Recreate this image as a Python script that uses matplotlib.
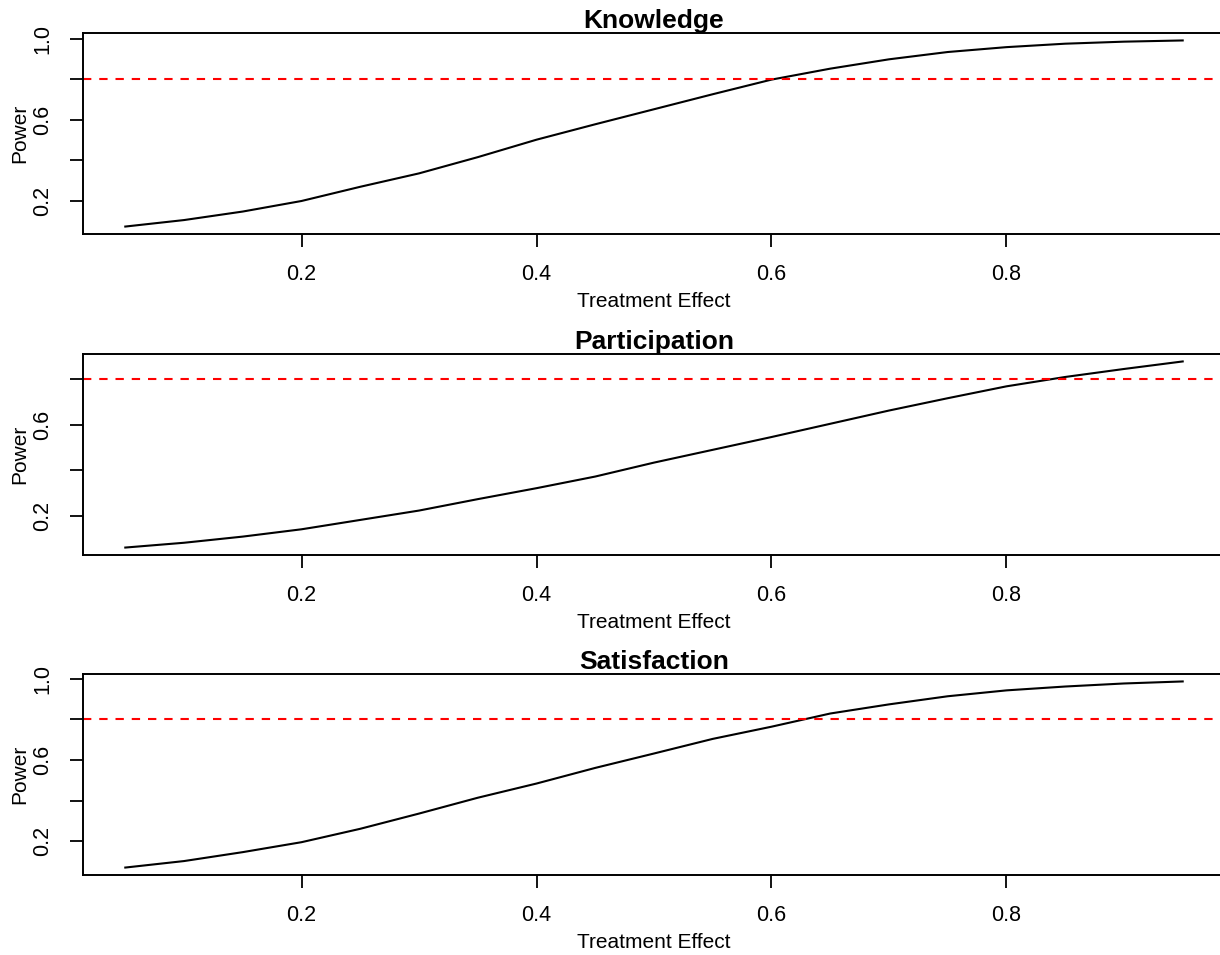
import matplotlib
matplotlib.use("Agg")
import matplotlib.pyplot as plt

plt.rcParams['font.family'] = ['Liberation Sans', 'DejaVu Sans']

# Treatment effect sizes evaluated
effect = [0.05, 0.10, 0.15, 0.20, 0.25, 0.30, 0.35, 0.40, 0.45, 0.50,
          0.55, 0.60, 0.65, 0.70, 0.75, 0.80, 0.85, 0.90, 0.95]

# Estimated power for each outcome
power_knowledge = [0.074, 0.106, 0.148, 0.200, 0.270, 0.336, 0.416, 0.502, 0.578, 0.652,
                   0.726, 0.798, 0.852, 0.898, 0.934, 0.958, 0.975, 0.985, 0.991]
power_participation = [0.062, 0.083, 0.110, 0.142, 0.183, 0.224, 0.274, 0.322, 0.373, 0.434,
                       0.490, 0.546, 0.604, 0.662, 0.716, 0.768, 0.809, 0.844, 0.877]
power_satisfaction = [0.070, 0.102, 0.146, 0.195, 0.261, 0.336, 0.414, 0.484, 0.561, 0.632,
                      0.704, 0.764, 0.829, 0.874, 0.914, 0.943, 0.962, 0.977, 0.987]

titles = ["Knowledge", "Participation", "Satisfaction"]
series = [power_knowledge, power_participation, power_satisfaction]
target_power = 0.8

W, H = 1220, 955
fig = plt.figure(figsize=(W / 100, H / 100), dpi=100)

# panel boxes in pixels: (top, bottom)
boxes = [(33, 234), (354, 555), (674, 875)]
left_px, right_px = 83, 1225

for (top, bot), title, y in zip(boxes, titles, series):
    ax = fig.add_axes([left_px / W, (H - bot) / H, (right_px - left_px) / W, (bot - top) / H])
    ax.plot(effect, y, color='black', lw=1.5)
    ax.axhline(target_power, color='#ff0000', lw=1.5, dashes=(4.0, 3.8))

    # R-style 4% padding around data range
    xr = max(effect) - min(effect)
    ax.set_xlim(min(effect) - 0.04 * xr, max(effect) + 0.04 * xr)
    yr = max(y) - min(y)
    ax.set_ylim(min(y) - 0.04 * yr, max(y) + 0.04 * yr)

    ax.set_xticks([0.2, 0.4, 0.6, 0.8])
    ax.set_xticklabels(["0.2", "0.4", "0.6", "0.8"])
    yt = [t for t in [0.2, 0.4, 0.6, 0.8, 1.0] if t <= ax.get_ylim()[1]]
    ax.set_yticks(yt)
    ax.set_yticklabels([("%.1f" % t) if t in (0.2, 0.6, 1.0) else "" for t in yt])

    ax.tick_params(axis='both', direction='out', length=9.5, width=1.3,
                   labelsize=15.5, pad=12)
    ax.tick_params(axis='y', labelrotation=90)
    for lbl in ax.get_yticklabels():
        lbl.set_va('center')

    for s in ax.spines.values():
        s.set_linewidth(1.4)

    ax.set_xlabel("Treatment Effect", fontsize=15, labelpad=5)
    ax.set_ylabel("Power", fontsize=15, labelpad=2)
    ax.set_title(title, fontsize=19, fontweight='bold', pad=1)

fig.savefig("out.png", dpi=100)
